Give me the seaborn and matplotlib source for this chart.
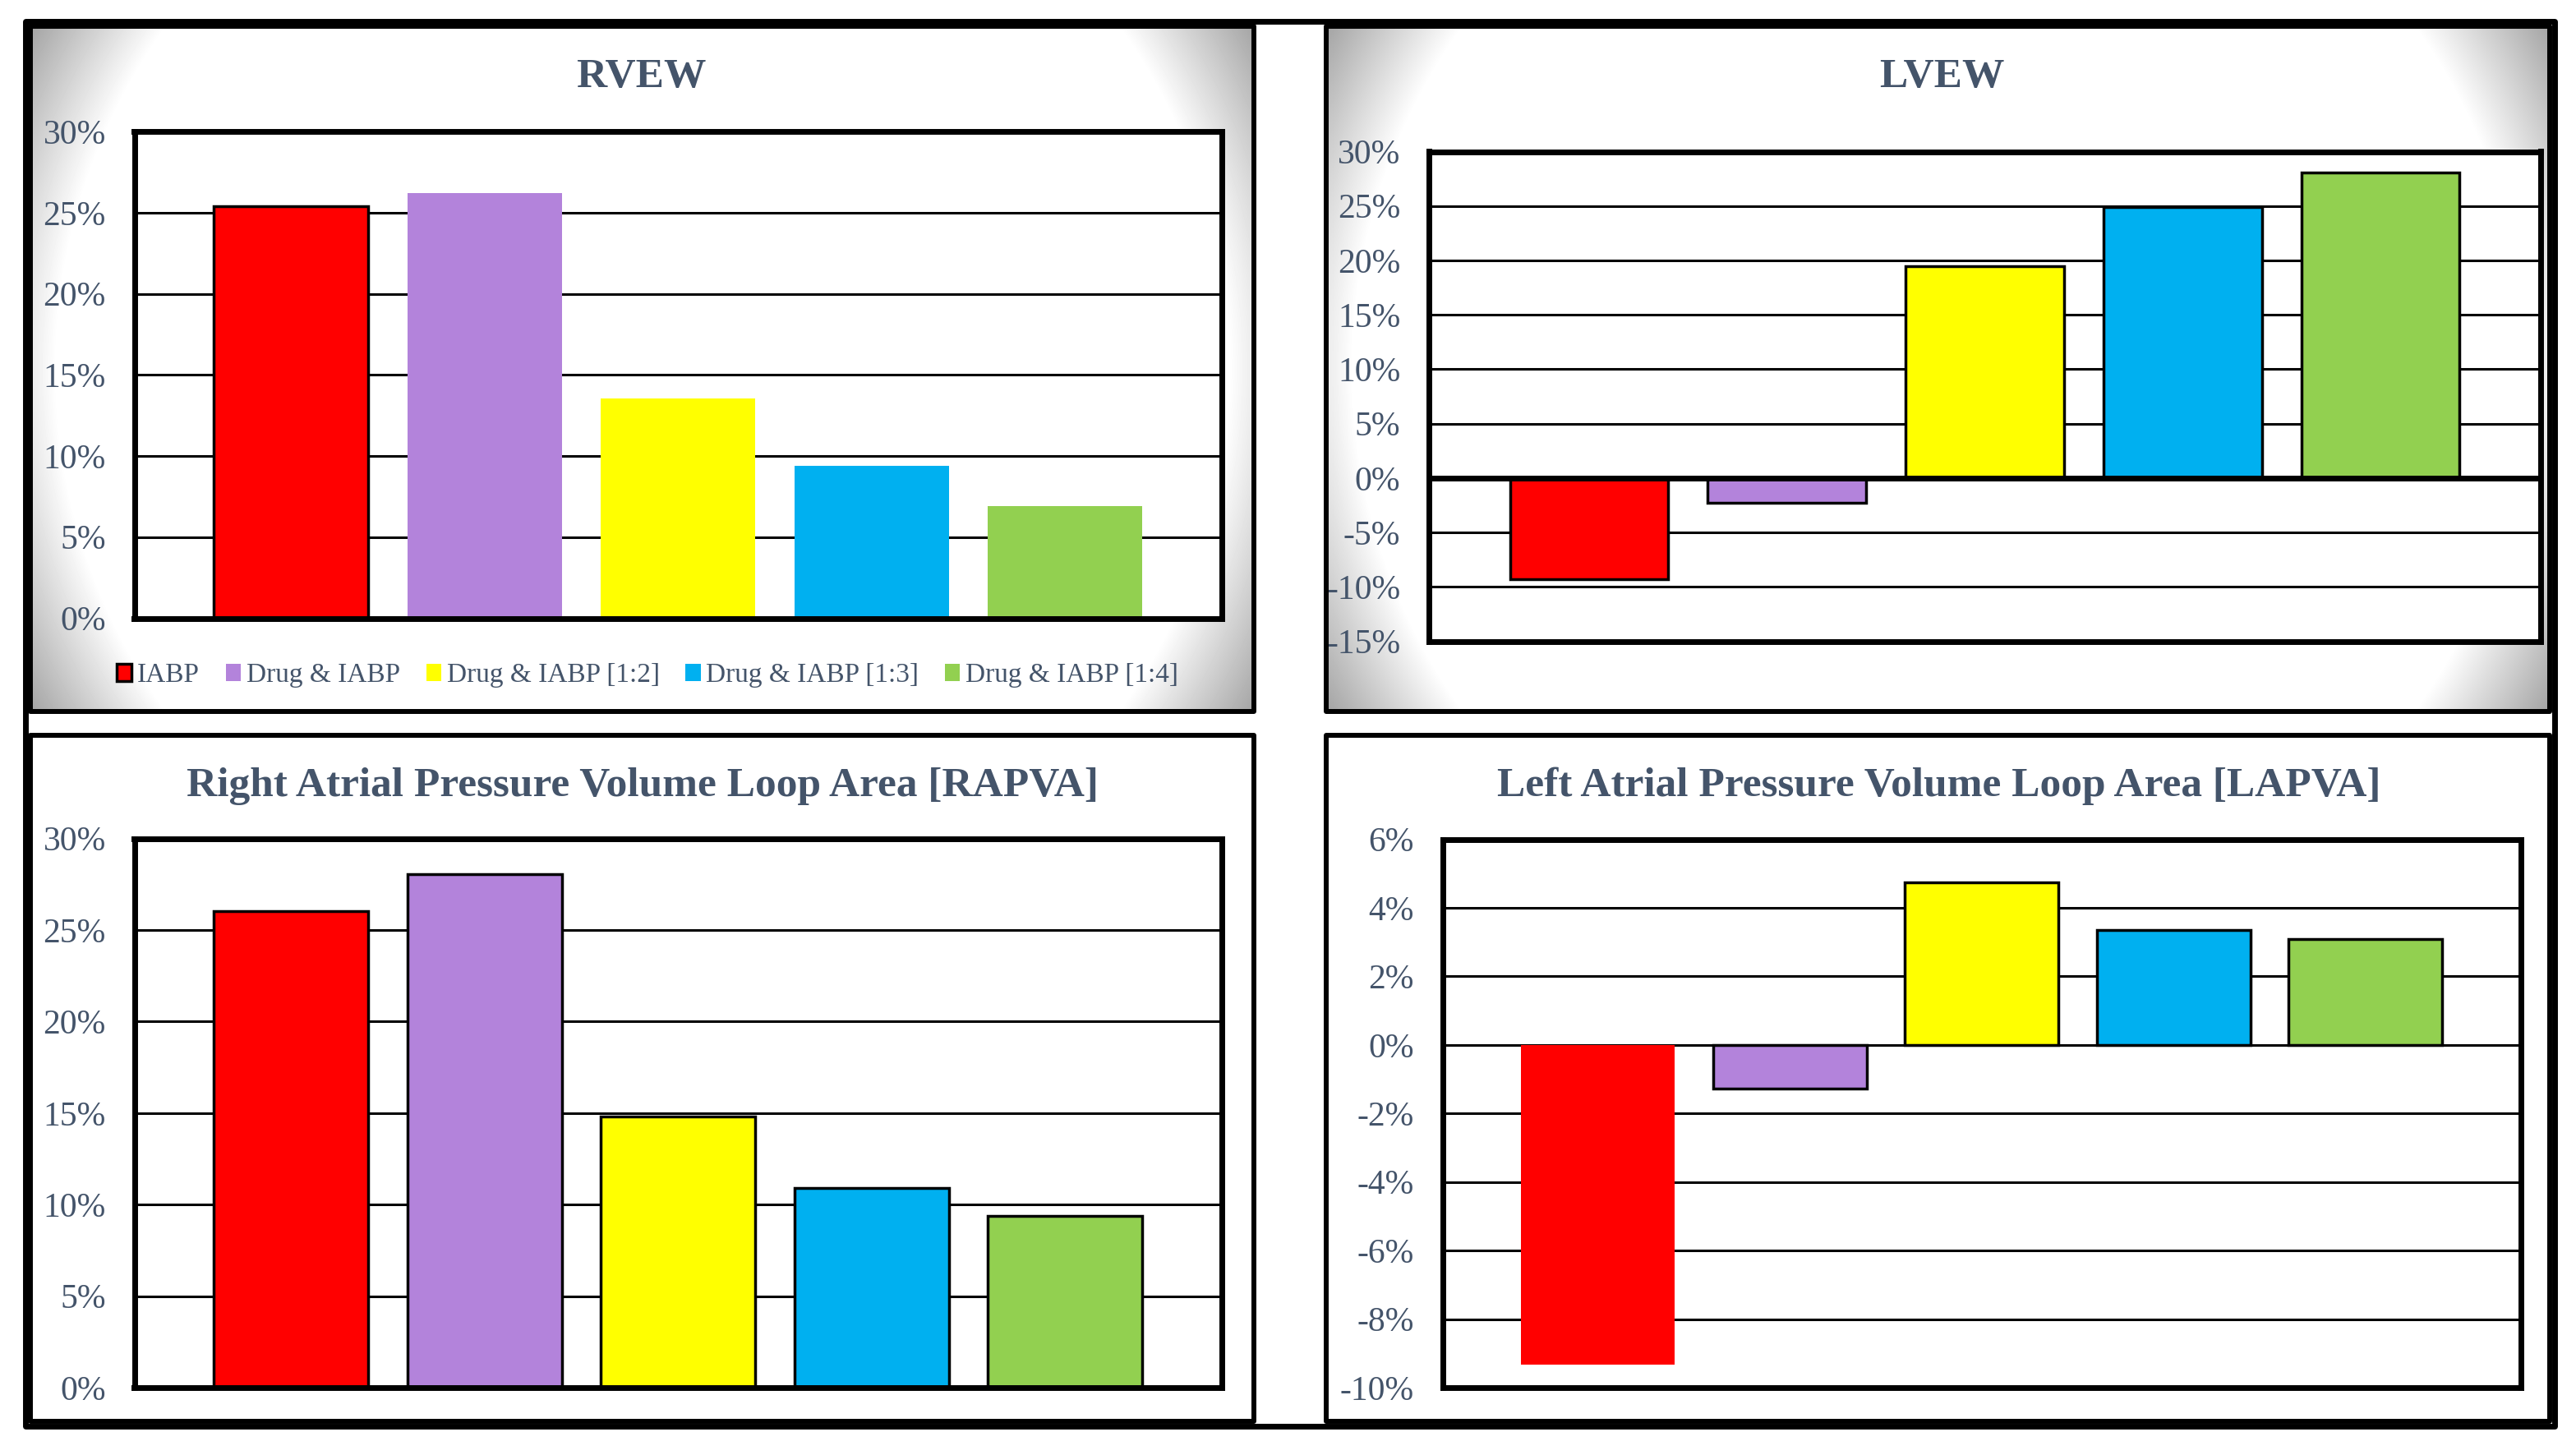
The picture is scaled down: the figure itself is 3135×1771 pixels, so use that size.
import numpy as np
import seaborn as sns
import matplotlib.pyplot as plt
from matplotlib.patches import Rectangle
from matplotlib.ticker import FuncFormatter, MultipleLocator

# categories and colours
groups = ["IABP", "Drug & IABP", "Drug & IABP [1:2]", "Drug & IABP [1:3]", "Drug & IABP [1:4]"]
colors = ["#FF0000", "#B383DB", "#FFFF00", "#00B0F0", "#92D050"]

# values (fractions, shown as percent)
rvew = [0.2537, 0.262, 0.1354, 0.0938, 0.0691]
lvew = [-0.0933, -0.0224, 0.195, 0.249, 0.2807]
rapva = [0.2602, 0.2805, 0.1481, 0.1092, 0.0938]
lapva = [-0.0934, -0.0127, 0.0473, 0.0335, 0.0308]

sns.set_style("white")
plt.rcParams['font.family'] = ['Liberation Serif', 'DejaVu Serif']
plt.rcParams['axes.unicode_minus'] = False

W, H = 3135, 1771
TXT = "#44546A"
fig = plt.figure(figsize=(W / 100, H / 100), dpi=100)


def frac(x0, y0, x1, y1):
    return [x0 / W, 1 - y1 / H, (x1 - x0) / W, (y1 - y0) / H]


def box(x0, y0, x1, y1, lw):
    r = Rectangle((x0 / W, 1 - y1 / H), (x1 - x0) / W, (y1 - y0) / H,
                  transform=fig.transFigure, fill=False, edgecolor="black",
                  linewidth=lw, joinstyle="round", zorder=10)
    fig.add_artist(r)


def radial(w, h):
    yy, xx = np.mgrid[0:h, 0:w]
    d = np.hypot(xx - w / 2, yy - h / 2)
    dmax = np.hypot(w / 2, h / 2)
    t = np.clip((d - 0.84 * dmax) / (0.16 * dmax), 0, 1)
    return 1 - 0.35 * t


def pct(v, pos):
    return f"{int(round(v * 100))}%"


# gradient backgrounds of the two upper panels
for x0, x1 in [(40, 1523), (1617, 3100)]:
    bg = fig.add_axes(frac(x0, 34, x1, 863), zorder=-5)
    bg.imshow(radial(x1 - x0, 863 - 34), cmap="gray", vmin=0, vmax=1,
              aspect="auto", interpolation="bilinear")
    bg.axis("off")

# panel borders and outer frame
box(37, 31.5, 1526, 866, 4.3)
box(1614, 31.5, 3102.5, 866, 4.3)
box(37, 894.5, 1526, 1729.5, 4.3)
box(1614, 894.5, 3102.5, 1729.5, 4.3)
box(30.5, 25.5, 3108.5, 1735.5, 5)


def panel(rect, vals, ylim, step, edges, zero_line=False):
    ax = fig.add_axes(frac(*rect))
    sns.barplot(x=groups, y=vals, hue=groups, order=groups, hue_order=groups,
                palette=colors, saturation=1, width=0.8, legend=False, ax=ax)
    for p, e in zip(ax.patches, edges):
        p.set_edgecolor("black" if e else "none")
        p.set_linewidth(2.5)
    ax.set_facecolor("white")
    ax.set_xlim(-0.81, 4.81)
    ax.set_ylim(*ylim)
    ax.set_xticks([])
    ax.set_xlabel("")
    ax.set_ylabel("")
    ax.yaxis.set_major_locator(MultipleLocator(step))
    ax.yaxis.set_major_formatter(FuncFormatter(pct))
    ax.tick_params(axis="y", length=0, pad=25, labelsize=30, labelcolor=TXT)
    ax.set_axisbelow(True)
    ax.yaxis.grid(True, color="black", linewidth=2.2)
    for s in ax.spines.values():
        s.set_visible(True)
        s.set_color("black")
        s.set_linewidth(5)
    if zero_line:
        ax.axhline(0, color="black", linewidth=5, zorder=3)
    return ax


ax1 = panel((163.5, 160, 1487, 752.5), rvew, (0, 0.30), 0.05, [1, 0, 0, 0, 0])
ax2 = panel((1739, 184.5, 3092, 780.5), lvew, (-0.15, 0.30), 0.05, [1, 1, 1, 1, 1], zero_line=True)
ax3 = panel((163.5, 1020.5, 1487, 1689), rapva, (0, 0.30), 0.05, [1, 1, 1, 1, 1])
ax4 = panel((1755.5, 1021.5, 3068, 1689), lapva, (-0.10, 0.06), 0.02, [0, 1, 1, 1, 1])

titles = [
    ("RVEW", 780, 106),
    ("LVEW", 2363, 106),
    ("Right Atrial Pressure Volume Loop Area [RAPVA]", 782, 969),
    ("Left Atrial Pressure Volume Loop Area [LAPVA]", 2360, 969),
]
for t, x, y in titles:
    fig.text(x / W, 1 - y / H, t, ha="center", va="baseline", fontsize=37,
             fontweight="bold", color=TXT)

fig.legend(handles=ax1.patches[:5], labels=groups, loc="center",
           bbox_to_anchor=(788 / W, 1 - 822 / H), ncol=5, frameon=False,
           fontsize=24, labelcolor=TXT, handlelength=0.55, handleheight=0.55,
           handletextpad=0.2, columnspacing=0.95)

fig.savefig("out.png", dpi=100)
